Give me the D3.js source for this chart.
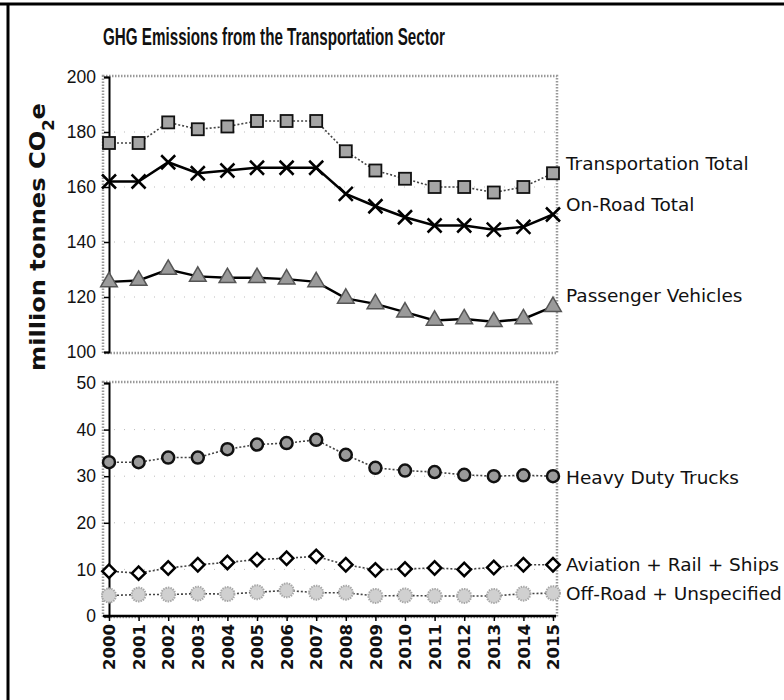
<!DOCTYPE html>
<html>
<head>
<meta charset="utf-8">
<script src="https://cdn.jsdelivr.net/npm/d3@7"></script>
<style>
  body { margin: 0; background: #fff; overflow: hidden; }
  svg { display: block; }
  text { font-family: "DejaVu Sans", sans-serif; fill: #111; }
</style>
</head>
<body>
<script>
'use strict'

// years on the x axis
const years = d3.range(2000, 2016)

// top panel series (million tonnes CO2e)
const transportTotal = [176, 176, 183.5, 181, 182, 184, 184, 184, 173, 166, 163, 160, 160, 158, 160, 165]
const onRoadTotal = [162, 162, 169, 165, 166, 167, 167, 167, 157.5, 153, 149, 146, 146, 144.5, 145.5, 150]
const passengerVehicles = [125.5, 126, 130, 127.5, 127, 127, 126.5, 125.5, 119.5, 117.5, 114.5, 111.5, 112, 111, 112, 116.5]

// bottom panel series
const heavyDutyTrucks = [33, 33, 34, 34, 35.8, 36.8, 37.1, 37.8, 34.6, 31.8, 31.2, 30.9, 30.3, 30, 30.2, 30]
const aviationRailShips = [9.6, 9.2, 10.3, 11, 11.5, 12.1, 12.4, 12.8, 11, 9.9, 10.1, 10.3, 10, 10.4, 11, 11]
const offRoadUnspecified = [4.4, 4.6, 4.6, 4.8, 4.7, 5.1, 5.5, 5, 5, 4.3, 4.4, 4.3, 4.3, 4.3, 4.8, 4.9]

// tick labels
const topTicks = [100, 120, 140, 160, 180, 200]
const bottomTicks = [0, 10, 20, 30, 40, 50]

const titleText = 'GHG Emissions from the Transportation Sector'

const W = 784, H = 700

const svg = d3.select('body').append('svg')
    .attr('width', W)
    .attr('height', H)

// scan frame lines at the top and the left
svg.append('line').attr('x1', 0).attr('x2', W).attr('y1', 4).attr('y2', 4)
    .attr('stroke', '#000').attr('stroke-width', 3)
svg.append('line').attr('x1', 8).attr('x2', 8).attr('y1', 4).attr('y2', H)
    .attr('stroke', '#000').attr('stroke-width', 3)

const x = d3.scaleLinear().domain([2000, 2015]).range([109, 553])

const panels = [
    {
        y: d3.scaleLinear().domain([100, 200]).range([352, 77]),
        ticks: topTicks,
        series: [
            { name: 'Transportation Total', values: transportTotal, marker: 'square', line: 'dotted', dy: -10 },
            { name: 'On-Road Total', values: onRoadTotal, marker: 'x', line: 'solid', dy: -10 },
            { name: 'Passenger Vehicles', values: passengerVehicles, marker: 'triangle', line: 'solid', dy: -11 }
        ]
    },
    {
        y: d3.scaleLinear().domain([0, 50]).range([616, 383]),
        ticks: bottomTicks,
        series: [
            { name: 'Heavy Duty Trucks', values: heavyDutyTrucks, marker: 'circle', line: 'dotted', dy: 1 },
            { name: 'Aviation + Rail + Ships', values: aviationRailShips, marker: 'diamond', line: 'dotted', dy: 0 },
            { name: 'Off-Road + Unspecified', values: offRoadUnspecified, marker: 'fuzzy', line: 'dotted', dy: 0 }
        ]
    }
]

panels.forEach((p, pi) => {
    const [yBot, yTop] = p.y.range()
    const g = svg.append('g')

    // faint gridlines (mostly lost in the scan)
    g.selectAll('.grid')
        .data(p.ticks.slice(1, -1))
        .enter().append('line')
        .attr('x1', 104).attr('x2', 556)
        .attr('y1', d => p.y(d)).attr('y2', d => p.y(d))
        .attr('stroke', '#bbb').attr('stroke-dasharray', '1,9')

    // stippled plot-area border
    g.append('rect')
        .attr('x', 103).attr('y', yTop - 1)
        .attr('width', 454).attr('height', yBot - yTop + 2)
        .attr('fill', 'none')
        .attr('stroke', '#999')
        .attr('stroke-width', 2.5)
        .attr('stroke-dasharray', '1.5,1.5')

    // y axis
    const yAxis = g.append('g')
        .attr('transform', 'translate(109,0)')
        .call(d3.axisLeft(p.y).tickValues(p.ticks).tickSize(5).tickPadding(8))
    yAxis.select('.domain').attr('stroke', '#000').attr('stroke-width', 2)
    yAxis.selectAll('.tick line').attr('stroke', '#000').attr('stroke-width', 1.5)
    yAxis.selectAll('.tick text')
        .style('font-family', '"Liberation Sans", Arial, sans-serif')
        .style('font-size', '17.5px')
        .attr('fill', '#111')

    // x axis only under the bottom panel
    if (pi === 1) {
        const xAxis = g.append('g')
            .attr('transform', `translate(0,${yBot})`)
            .call(d3.axisBottom(x).tickValues(years).tickFormat(d3.format('d')).tickSize(5).tickPadding(8))
        xAxis.select('.domain').attr('stroke', '#000').attr('stroke-width', 2.5)
            .attr('d', `M103,0H556`)
        xAxis.selectAll('.tick line').attr('stroke', '#000').attr('stroke-width', 1.5)
        xAxis.selectAll('.tick text')
            .style('font-family', '"DejaVu Sans", sans-serif')
            .style('font-size', '16.5px')
            .style('font-weight', 'bold')
            .attr('fill', '#111')
            .attr('text-anchor', 'end')
            .attr('transform', 'rotate(-90)')
            .attr('x', -8)
            .attr('y', 0)
            .attr('dy', '0.35em')
    }

    p.series.forEach(s => {
        const pts = s.values.map((v, i) => [x(years[i]), p.y(v)])
        const line = d3.line()
        const path = g.append('path')
            .attr('d', line(pts))
            .attr('fill', 'none')
        if (s.line === 'solid') {
            path.attr('stroke', '#000').attr('stroke-width', 2.5)
        } else {
            path.attr('stroke', '#444').attr('stroke-width', 1.6).attr('stroke-dasharray', '2,2')
        }

        const m = g.selectAll(null).data(pts).enter().append('g')
            .attr('transform', d => `translate(${d[0]},${d[1]})`)
        if (s.marker === 'square') {
            m.append('rect').attr('x', -6).attr('y', -6).attr('width', 12).attr('height', 12)
                .attr('fill', '#a5a5a5').attr('stroke', '#111').attr('stroke-width', 1.8)
        } else if (s.marker === 'x') {
            m.append('path').attr('d', 'M-7,-7L7,7M-7,7L7,-7')
                .attr('stroke', '#000').attr('stroke-width', 2.5)
        } else if (s.marker === 'triangle') {
            m.append('path').attr('d', d3.symbol(d3.symbolTriangle, 120)())
                .attr('fill', '#9a9a9a').attr('stroke', '#555').attr('stroke-width', 1.5)
        } else if (s.marker === 'circle') {
            m.append('circle').attr('r', 6)
                .attr('fill', '#9a9a9a').attr('stroke', '#111').attr('stroke-width', 2.5)
        } else if (s.marker === 'diamond') {
            m.append('path').attr('d', d3.symbol(d3.symbolSquare, 90)())
                .attr('transform', 'rotate(45)')
                .attr('fill', '#fff').attr('stroke', '#000').attr('stroke-width', 2.5)
        } else {
            m.append('circle').attr('r', 7)
                .attr('fill', '#d0d0d0').attr('stroke', '#a8a8a8').attr('stroke-width', 2)
                .attr('stroke-dasharray', '1.5,1')
        }

        // series label to the right of the last point
        const last = pts[pts.length - 1]
        g.append('text')
            .attr('x', last[0] + 13)
            .attr('y', last[1] + s.dy)
            .attr('dy', '0.35em')
            .style('font-size', '18.5px')
            .text(s.name)
    })
})

// title
svg.append('text')
    .attr('x', 103).attr('y', 45)
    .style('font-family', '"Liberation Sans", Arial, sans-serif')
    .style('font-weight', 'bold')
    .style('font-size', '24px')
    .attr('textLength', 342)
    .attr('lengthAdjust', 'spacingAndGlyphs')
    .text(titleText)

// y axis title with subscript
const yTitle = svg.append('text')
    .attr('transform', 'translate(45,237) rotate(-90)')
    .attr('text-anchor', 'middle')
    .style('font-weight', 'bold')
    .style('font-size', '22px')
    .attr('textLength', 268)
    .attr('lengthAdjust', 'spacingAndGlyphs')
yTitle.append('tspan').text('million tonnes CO')
yTitle.append('tspan').attr('baseline-shift', 'sub').style('font-size', '15px').text('2')
yTitle.append('tspan').text('e')
</script>
</body>
</html>
